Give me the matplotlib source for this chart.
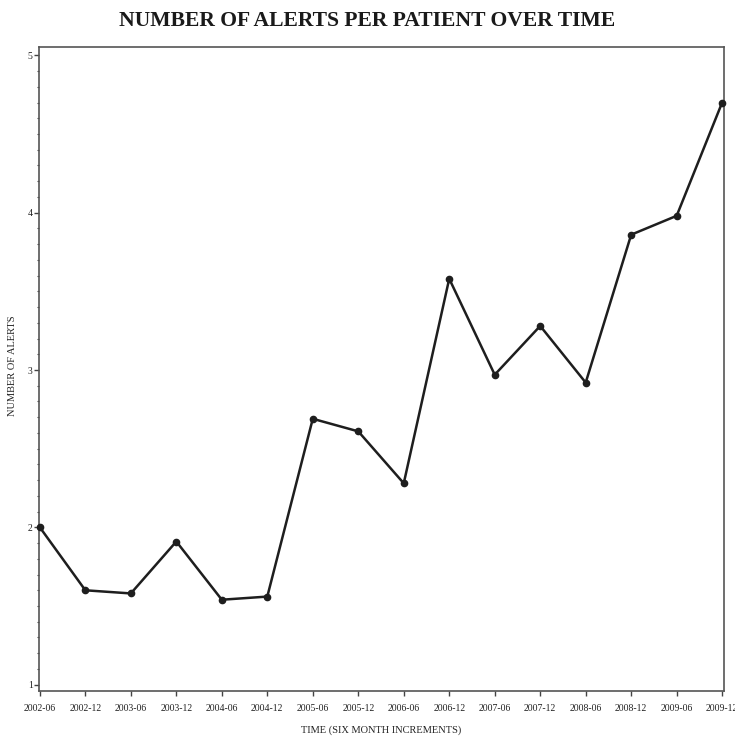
import matplotlib
matplotlib.use("Agg")
import matplotlib.pyplot as plt
from matplotlib.ticker import MultipleLocator

periods = ["2002-06", "2002-12", "2003-06", "2003-12", "2004-06", "2004-12",
           "2005-06", "2005-12", "2006-06", "2006-12", "2007-06", "2007-12",
           "2008-06", "2008-12", "2009-06", "2009-12"]
alerts = [2.00, 1.60, 1.58, 1.91, 1.54, 1.56, 2.69, 2.61, 2.28, 3.58,
          2.97, 3.28, 2.92, 3.86, 3.98, 4.70]

title = "NUMBER OF ALERTS PER PATIENT OVER TIME"
xlabel = "TIME (SIX MONTH INCREMENTS)"
ylabel = "NUMBER OF ALERTS"

plt.rcParams['font.family'] = ['Liberation Serif', 'DejaVu Serif']

fig = plt.figure(figsize=(7.35, 7.38), dpi=100)
ax = fig.add_axes([0.053, 0.0637, 0.932, 0.872])

x = list(range(len(periods)))
ax.plot(x, alerts, color='#1e1e1e', lw=1.8, marker='o', ms=4.5,
        markerfacecolor='#1e1e1e', markeredgecolor='#1e1e1e', clip_on=False, zorder=3)

ax.set_xlim(-0.02, 15.04)
ax.set_ylim(0.96, 5.05)
ax.set_xticks(x)
ax.set_xticklabels(periods, fontsize=7)
ax.set_yticks([1, 2, 3, 4, 5])
ax.set_yticklabels(['1', '2', '3', '4', '5'], fontsize=7)
ax.yaxis.set_minor_locator(MultipleLocator(0.1))
ax.tick_params(axis='both', which='major', direction='out', length=3.5, width=1,
               color='#444444', labelcolor='#222222', pad=1)
ax.tick_params(axis='y', which='minor', direction='out', length=1.5, width=0.8,
               color='#444444')
ax.tick_params(axis='x', pad=6)
for s in ax.spines.values():
    s.set_color('#555555')
    s.set_linewidth(1.2)

ax.set_xlabel(xlabel, fontsize=7.5, color='#222222')
ax.xaxis.set_label_coords(0.5, -0.054)
ax.set_ylabel(ylabel, fontsize=7.5, color='#222222')
ax.yaxis.set_label_coords(-0.032, 0.505)
fig.text(0.5, 0.972, title, ha='center', va='center', fontsize=15.6,
         color='#1a1a1a', fontweight='bold')

fig.savefig("out.png", dpi=100)
